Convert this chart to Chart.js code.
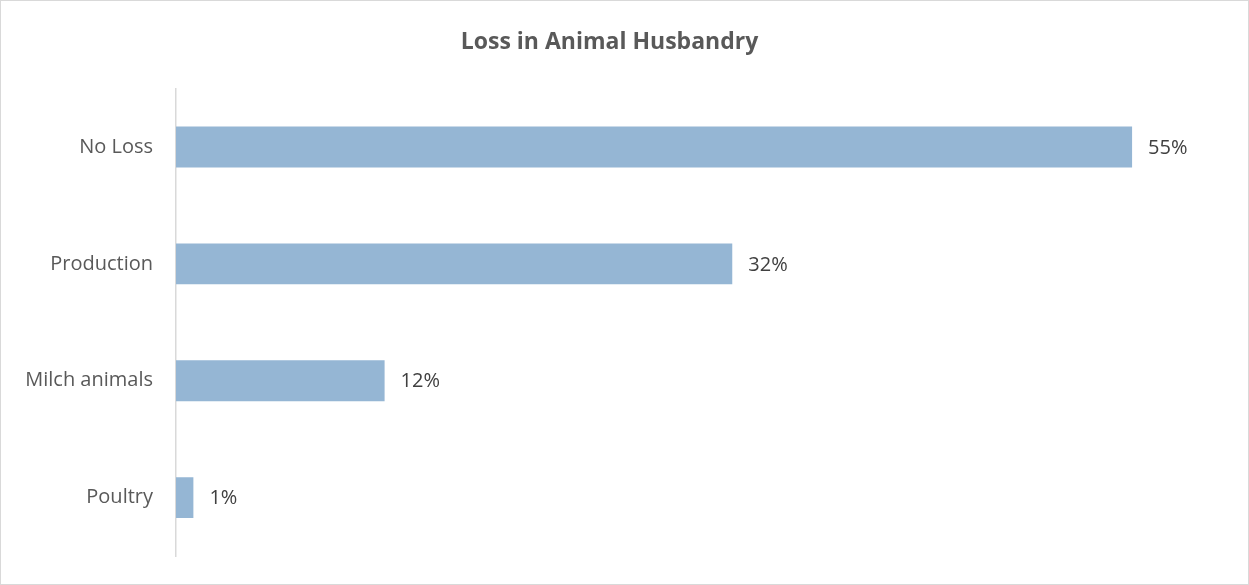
<!DOCTYPE html>
<html>
<head>
<meta charset="utf-8">
<script src="https://cdn.jsdelivr.net/npm/chart.js@4/dist/chart.umd.min.js"></script>
<style>
  html, body { margin: 0; padding: 0; background: #ffffff; }
  #wrap { width: 1249px; height: 585px; }
</style>
</head>
<body>
<div id="wrap"><canvas id="lossChart" width="1249" height="585"></canvas></div>
<script>
// Loss categories and their share (%)
const categories = ['No Loss', 'Production', 'Milch animals', 'Poultry']
const lossShare = [55, 32, 12, 1]
const chartTitle = 'Loss in Animal Husbandry'

const fontFamily = "'Open Sans', 'Noto Sans', sans-serif"

// Thin gray frame around the whole chart
const frame = {
  id: 'frame',
  beforeDraw(chart) {
    const ctx = chart.ctx
    ctx.save()
    ctx.fillStyle = '#ffffff'
    ctx.fillRect(0, 0, chart.width, chart.height)
    ctx.strokeStyle = '#d9d9d9'
    ctx.lineWidth = 1
    ctx.strokeRect(0.5, 0.5, chart.width - 1, chart.height - 1)
    ctx.restore()
  }
}

// Percent labels after each bar end
const valueLabels = {
  id: 'valueLabels',
  afterDatasetsDraw(chart) {
    const ctx = chart.ctx
    const meta = chart.getDatasetMeta(0)
    ctx.save()
    ctx.font = '20px ' + fontFamily
    ctx.fillStyle = '#404040'
    ctx.textAlign = 'left'
    ctx.textBaseline = 'middle'
    meta.data.forEach((bar, i) => {
      ctx.fillText(lossShare[i] + '%', bar.x + 16, bar.y + 1)
    })
    ctx.restore()
  }
}

new Chart(document.getElementById('lossChart'), {
  type: 'bar',
  data: {
    labels: categories,
    datasets: [
      {
        data: lossShare,
        backgroundColor: '#95b6d4',
        barPercentage: 0.35,
        categoryPercentage: 1
      }
    ]
  },
  options: {
    indexAxis: 'y',
    responsive: false,
    animation: false,
    layout: {
      padding: { top: 29, right: 30, bottom: 29, left: 0 }
    },
    plugins: {
      legend: { display: false },
      tooltip: { enabled: false },
      title: {
        display: true,
        text: chartTitle,
        color: '#595959',
        font: { family: fontFamily, size: 23, weight: 'bold', lineHeight: 1.2 },
        padding: { top: 0, bottom: 32 }
      }
    },
    scales: {
      x: {
        display: false,
        min: 0,
        max: 60
      },
      y: {
        afterFit(scale) {
          // fixed axis width; label padding shouldn't eat vertical space
          scale.width = 176
          scale.paddingTop = 0
          scale.paddingBottom = 0
        },
        grid: { display: false, drawTicks: false },
        border: { display: true, color: '#d9d9d9', width: 1.5 },
        ticks: {
          color: '#595959',
          padding: 23,
          font: { family: fontFamily, size: 20 }
        }
      }
    }
  },
  plugins: [frame, valueLabels]
})
</script>
</body>
</html>
